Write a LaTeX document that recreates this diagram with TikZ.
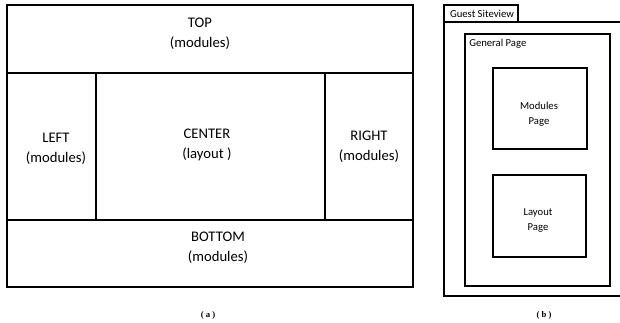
\documentclass[tikz,border=0pt]{standalone}
\usepackage{fontspec}
\setmainfont{Carlito}
\newfontfamily\capfont{Liberation Serif}
\usetikzlibrary{positioning,fit}

\begin{document}
\begin{tikzpicture}[x=0.75pt, y=-0.75pt,
    box/.style={draw, line width=0.8pt, inner sep=0pt, outer sep=0pt},
    big/.style={align=center, font=\fontsize{11}{15}\selectfont},
    small/.style={align=center, font=\fontsize{8}{11.25}\selectfont},
    caption/.style={font=\capfont\bfseries\fontsize{6.5}{7}\selectfont}]

  \useasboundingbox (0,0) rectangle (620,322);

  % (a) page regions
  \node[box, fit={(7,5) (413,73)}]    (top) {};
  \node[box, fit={(7,73) (96,220)}]   (left) {};
  \node[box, fit={(96,73) (325,220)}] (center) {};
  \node[box, fit={(325,73) (413,220)}] (right) {};
  \node[box, fit={(7,220) (413,287)}] (bottom) {};

  \node[big] (toptxt)    at (200,34)  {TOP\\(modules)};
  \node[big] (lefttxt)   at (56,149)  {LEFT\\(modules)};
  \node[big] (centertxt) at (207,145) {CENTER\\(layout )};
  \node[big] (righttxt)  at (369,147) {RIGHT\\(modules)};
  \node[big] (bottomtxt) at (218,248) {BOTTOM\\(modules)};
  \node[caption] (capa) at (208,315) {( a )};

  % (b) siteview
  \node[box, fit={(444,5) (518,22)}] (tab) {};
  \node[small] (tabtxt) at (482,14) {Guest Siteview};
  \draw[line width=0.8pt] (620,22) -- (444,22) -- (444,296) -- (620,296);
  \node[box, fit={(465,34) (610,286)}] (general) {};
  \node[small, anchor=west, inner sep=0pt] (generaltxt) at (469,44) {General Page};
  \node[box, fit={(493,68) (587,149)}]  (modules) {};
  \node[small] (modulestxt) at (539,114) {Modules\\Page};
  \node[box, fit={(493,175) (586,257)}] (layout) {};
  \node[small] (layouttxt) at (538,220) {Layout\\Page};
  \node[caption] (capb) at (544,315) {( b )};

\end{tikzpicture}
\end{document}
